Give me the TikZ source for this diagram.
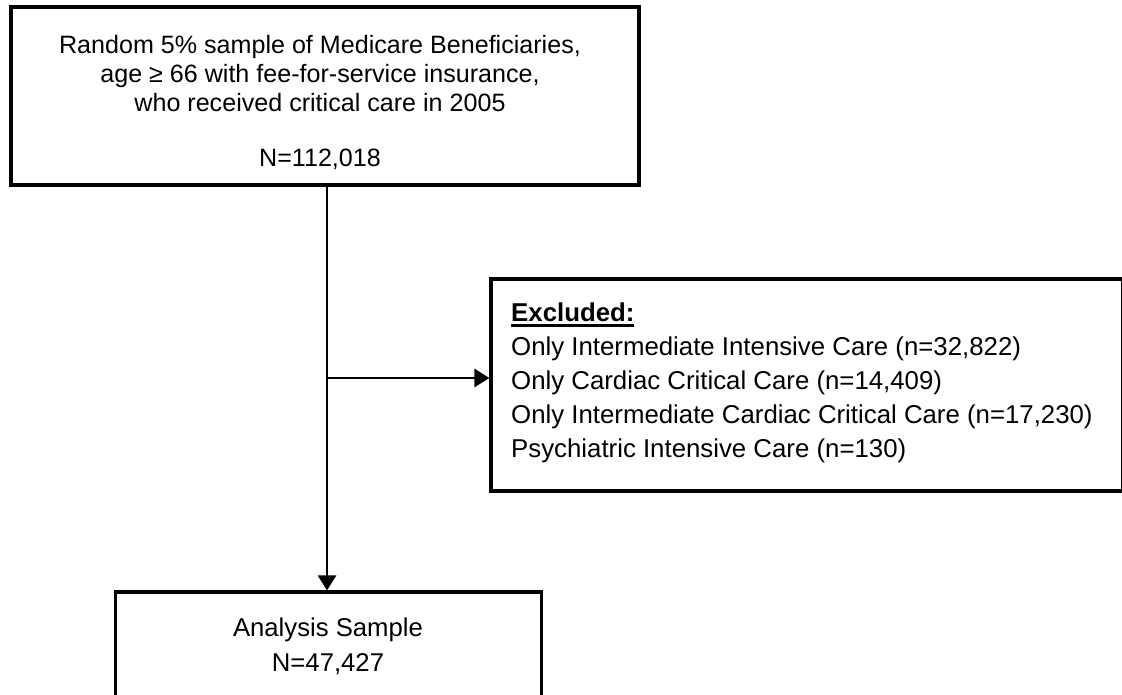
\documentclass[tikz,border=0pt]{standalone}
\usepackage{fontspec}
\setmainfont{Liberation Sans}
\usetikzlibrary{arrows.meta}
\newcommand\thickul[1]{\setbox0\hbox{#1}\rlap{\vrule height -3pt depth 5.5pt width \wd0}\box0}
\tikzset{
  box/.style={draw, line width=3.2pt, rectangle, inner sep=0pt},
  txt/.style={inner sep=0pt, font=\fontsize{25.1}{29}\selectfont},
  conn/.style={line width=2.8pt, -{Triangle[length=15pt,width=18pt]}}
}
\begin{document}
\begin{tikzpicture}[x=1pt,y=1pt]
\useasboundingbox (0,0) rectangle (1122,-694);
\clip (0,0) rectangle (1122,-694);
\fill[white] (0,0) rectangle (1122,-694);
% boxes
\node[box, minimum width=628pt, minimum height=178pt] (top) at (325,-96) {};
\node[box, minimum width=632pt, minimum height=212pt] (excl) at (807,-385) {};
\node[box, minimum width=426pt, minimum height=170pt] (bot) at (328.5,-677) {};
% texts (anchor base = baseline of the last line)
\node[txt, anchor=base, align=center] (toptxt) at (320,-166)
  {Random 5\% sample of Medicare Beneficiaries,\\
   age ≥ 66 with fee-for-service insurance,\\
   who received critical care in 2005\\[26pt]
   N=112,018};
\node[txt, anchor=base west, align=left, font=\fontsize{25.8}{34}\selectfont] (excltxt) at (511,-457)
  {\thickul{\textbf{Excluded:}}\\
   Only Intermediate Intensive Care (n=32,822)\\
   Only Cardiac Critical Care (n=14,409)\\
   Only Intermediate Cardiac Critical Care (n=17,230)\\
   Psychiatric Intensive Care (n=130)};
\node[txt, anchor=base, align=center, font=\fontsize{25.7}{35}\selectfont] (bottxt) at (328,-671)
  {Analysis Sample\\N=47,427};
% connectors
\coordinate (j) at (327,-378);
\draw[conn] (top.south -| j) -- (bot.north -| j);
\draw[conn] (j) -- (excl.west |- j);
\end{tikzpicture}
\end{document}
